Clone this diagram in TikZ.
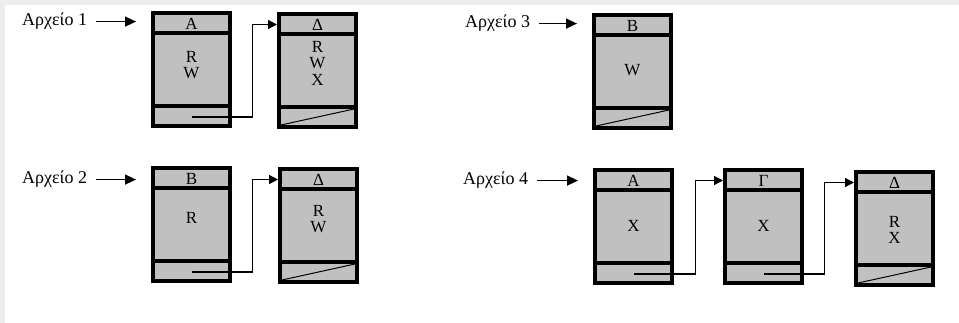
\documentclass[tikz,border=0pt]{standalone}
\usepackage{fontspec}
\setmainfont{Liberation Serif}
\usetikzlibrary{arrows.meta}
\definecolor{boxgray}{HTML}{C0C0C0}
\definecolor{framegray}{HTML}{EDEDED}
\tikzset{
  boxbody/.style={draw=black, fill=boxgray, line width=4pt, minimum width=77pt, minimum height=113pt, inner sep=0pt},
  divider/.style={line width=4pt},
  headtxt/.style={inner sep=0pt, font=\fontsize{17}{17}\selectfont},
  bodytxt/.style={inner sep=0pt, align=center, font=\fontsize{17}{16.5}\selectfont},
  lbl/.style={inner sep=0pt, font=\fontsize{18}{18}\selectfont},
  conn/.style={line width=1.3pt, -{Triangle[length=9pt,width=9pt]}},
  lblarrow/.style={line width=1.5pt, -{Triangle[length=11pt,width=10pt]}, shorten <=9pt, shorten >=15pt},
  slash/.style={line width=1pt}
}
% #1 name, #2 left, #3 top, #4 header, #5 content, #6 content centre offset
\newcommand\filebox[6]{%
  \node[boxbody] (#1) at (#2+40.5, #3+58.5) {};
  \draw[divider] (#2+2, #3+22) -- (#2+79, #3+22);
  \draw[divider] (#2+2, #3+95) -- (#2+79, #3+95);
  \node[headtxt] (#1-h) at (#2+40.5, #3+12.5) {#4};
  \node[bodytxt] (#1-b) at (#2+40.5, #3+#6) {#5};
  \coordinate (#1-f) at (#2+40.5, #3+106);
}
\newcommand\slashfoot[3]{% name, left, top
  \draw[slash] (#2+4, #3+113) -- (#2+77, #3+97);
}
\begin{document}
\begin{tikzpicture}[x=1pt, y=-1pt]
\useasboundingbox (0,0) rectangle (959,323);
\fill[white] (0,0) rectangle (959,323);
\fill[framegray] (0,0) rectangle (959,5);
\fill[framegray] (0,0) rectangle (5,323);

% Row 1
\filebox{a1}{151}{11}{A}{R\\W}{54}
\filebox{d1}{277}{12}{Δ}{R\\W\\X}{51}
\slashfoot{d1}{277}{12}
\node[lbl, anchor=base west] (l1) at (22,26) {Αρχείο 1};
\draw[lblarrow] (l1.east) -- (l1.east -| a1.west);
\draw[conn] (a1-f) -- ++(61,0) |- (d1.west |- d1-h);

% Row 2
\filebox{b2}{151}{166}{B}{R}{52}
\filebox{d2}{278}{167}{Δ}{R\\W}{52}
\slashfoot{d2}{278}{167}
\node[lbl, anchor=base west] (l2) at (22,184) {Αρχείο 2};
\draw[lblarrow] (l2.east) -- (l2.east -| b2.west);
\draw[conn] (b2-f) -- ++(61,0) |- (d2.west |- d2-h);

% Row 3
\filebox{b3}{592}{13}{B}{W}{57}
\slashfoot{b3}{592}{13}
\node[lbl, anchor=base west] (l3) at (465,28) {Αρχείο 3};
\draw[lblarrow] (l3.east) -- (l3.east -| b3.west);

% Row 4
\filebox{a4}{593}{168}{A}{X}{58}
\filebox{g4}{723}{168}{Γ}{X}{58}
\filebox{d4}{854}{170}{Δ}{R\\X}{60}
\slashfoot{d4}{854}{170}
\node[lbl, anchor=base west] (l4) at (463,185) {Αρχείο 4};
\draw[lblarrow] (l4.east) -- (l4.east -| a4.west);
\draw[conn] (a4-f) -- ++(62,0) |- (g4.west |- g4-h);
\draw[conn] (g4-f) -- ++(61,0) |- (d4.west |- d4-h);
\end{tikzpicture}
\end{document}
